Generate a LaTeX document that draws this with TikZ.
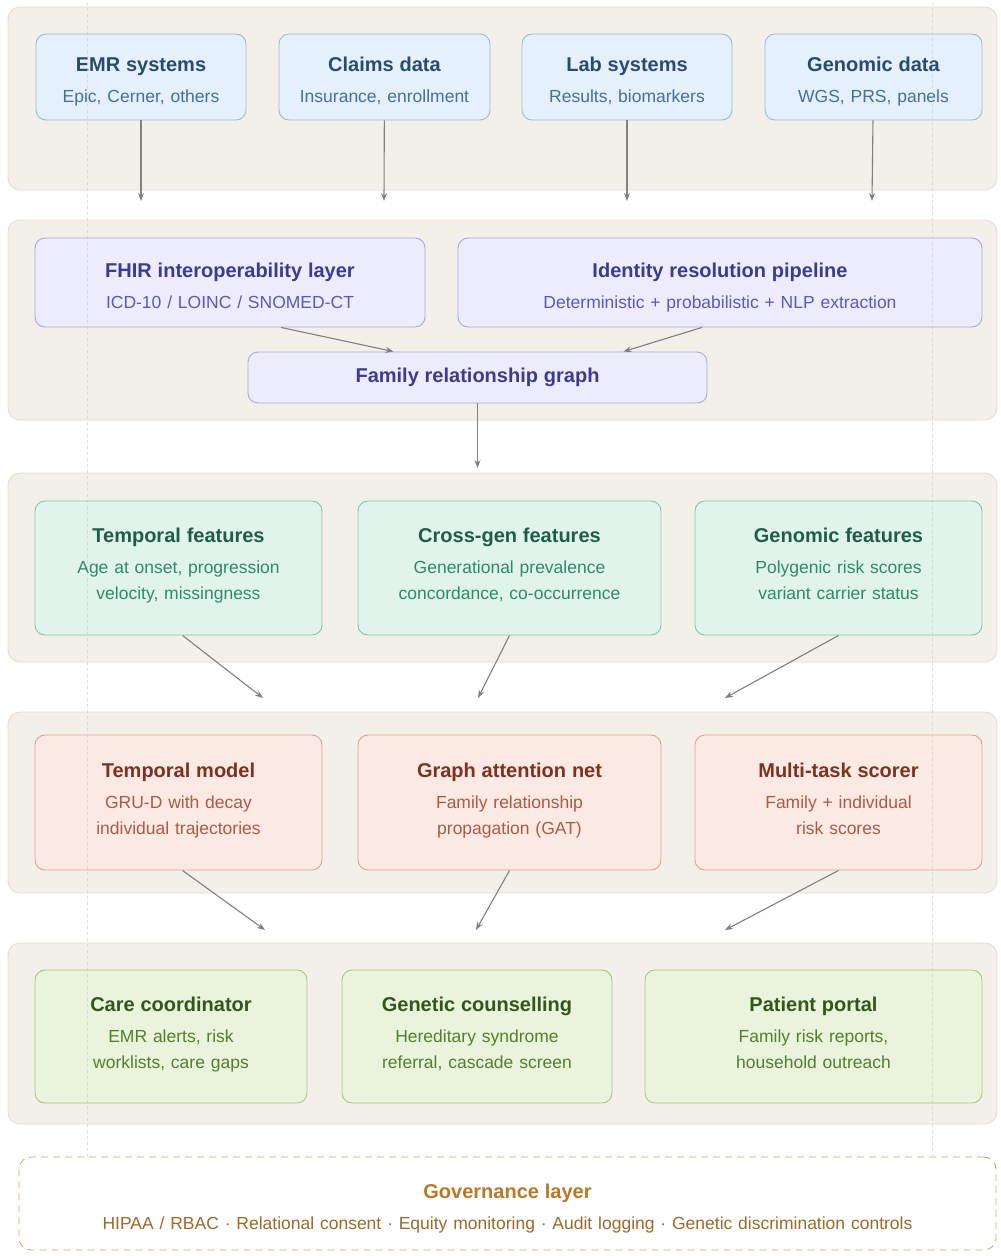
\documentclass[tikz,border=0pt]{standalone}
\usepackage{fontspec}
\setmainfont{Liberation Sans}
\usetikzlibrary{arrows.meta}

\definecolor{bandfill}{HTML}{F3F0EA}
\definecolor{bandline}{HTML}{E2DDD3}
\definecolor{srcfill}{HTML}{E4F0FB}
\definecolor{srcline}{HTML}{9DBAD6}
\definecolor{srcttl}{HTML}{2A4A6E}
\definecolor{srcsub}{HTML}{45709A}
\definecolor{intfill}{HTML}{EDECFD}
\definecolor{intline}{HTML}{AAA6E6}
\definecolor{intttl}{HTML}{3D3A8F}
\definecolor{intsub}{HTML}{5D57C0}
\definecolor{featfill}{HTML}{E0F4EC}
\definecolor{featline}{HTML}{86C4AB}
\definecolor{featttl}{HTML}{1E5E48}
\definecolor{featsub}{HTML}{2F8A69}
\definecolor{modfill}{HTML}{FBE9E3}
\definecolor{modline}{HTML}{DBA596}
\definecolor{modttl}{HTML}{7C3220}
\definecolor{modsub}{HTML}{A95C47}
\definecolor{outfill}{HTML}{EAF3DC}
\definecolor{outline}{HTML}{A8C585}
\definecolor{outttl}{HTML}{34561A}
\definecolor{outsub}{HTML}{557F2C}
\definecolor{govline}{HTML}{D7A562}
\definecolor{govttl}{HTML}{B87826}
\definecolor{govsub}{HTML}{9C6A2C}
\definecolor{arrowgray}{HTML}{808080}
\definecolor{guidegray}{HTML}{CFCAC0}

% title line + coloured detail lines
\newcommand{\cardtext}[3]{{\color{#1}\fontsize{20}{24}\selectfont\bfseries #2}\\[5pt]#3\strut}
% same, text set a little lower (one detail line only)
\newcommand{\cardtextlow}[3]{{\color{#1}\fontsize{20}{24}\selectfont\bfseries\rule{0pt}{28pt}#2}\\[5pt]#3\strut}

\tikzset{
  band/.style={draw=bandline, fill=bandfill, rounded corners=12pt, line width=0.8pt},
  card/.style={rounded corners=10pt, line width=0.9pt, align=center, inner xsep=10pt,
    inner ysep=4pt, font=\fontsize{17.5}{26}\selectfont},
  srcbox/.style={card, fill=srcfill, draw=srcline, text=srcsub},
  intbox/.style={card, fill=intfill, draw=intline, text=intsub},
  featbox/.style={card, fill=featfill, draw=featline, text=featsub},
  modbox/.style={card, fill=modfill, draw=modline, text=modsub},
  outbox/.style={card, fill=outfill, draw=outline, text=outsub},
  govbox/.style={card, draw=govline, dashed, dash pattern=on 7pt off 5pt, fill=white,
    text=govsub, rounded corners=12pt},
  arr/.style={draw=arrowgray, line width=1.1pt, -{Stealth[length=8pt,width=6pt]}},
  guide/.style={draw=guidegray, dashed, line width=0.9pt, opacity=0.6}
}

\begin{document}
\begin{tikzpicture}[x=1pt,y=-1pt]
  \useasboundingbox (0,0) rectangle (1001,1256);

  % Bands
  \draw[band] (8,7) rectangle (997,190);
  \draw[band] (8,220) rectangle (997,420);
  \draw[band] (8,473) rectangle (997,662);
  \draw[band] (8,712) rectangle (997,893);
  \draw[band] (8,943) rectangle (997,1124);

  % Data sources
  \node[srcbox, text width=190pt, minimum height=86pt] (emr) at (141,77)
    {\cardtextlow{srcttl}{EMR systems}{Epic, Cerner, others}};
  \node[srcbox, text width=191pt, minimum height=86pt] (claims) at (384.5,77)
    {\cardtextlow{srcttl}{Claims data}{Insurance, enrollment}};
  \node[srcbox, text width=190pt, minimum height=86pt] (lab) at (627,77)
    {\cardtextlow{srcttl}{Lab systems}{Results, biomarkers}};
  \node[srcbox, text width=197pt, minimum height=86pt] (gdata) at (873.5,77)
    {\cardtextlow{srcttl}{Genomic data}{WGS, PRS, panels}};

  % Integration
  \node[intbox, text width=370pt, minimum height=89pt] (fhir) at (230,282.5)
    {\cardtextlow{intttl}{FHIR interoperability layer}{ICD-10 / LOINC / SNOMED-CT}};
  \node[intbox, text width=504pt, minimum height=89pt] (ident) at (720,282.5)
    {\cardtextlow{intttl}{Identity resolution pipeline}{Deterministic + probabilistic + NLP extraction}};
  \node[intbox, text width=439pt, minimum height=51pt] (frg) at (477.5,377.5)
    {{\color{intttl}\fontsize{20}{24}\selectfont\bfseries Family relationship graph}};

  % Features
  \node[featbox, text width=267pt, minimum height=134pt] (tfeat) at (178.5,568)
    {\cardtext{featttl}{Temporal features}{Age at onset, progression\\velocity, missingness}};
  \node[featbox, text width=283pt, minimum height=134pt] (xfeat) at (509.5,568)
    {\cardtext{featttl}{Cross-gen features}{Generational prevalence\\concordance, co-occurrence}};
  \node[featbox, text width=267pt, minimum height=134pt] (gfeat) at (838.5,568)
    {\cardtext{featttl}{Genomic features}{Polygenic risk scores\\variant carrier status}};

  % Models
  \node[modbox, text width=267pt, minimum height=135pt] (tmod) at (178.5,802.5)
    {\cardtext{modttl}{Temporal model}{GRU-D with decay\\individual trajectories}};
  \node[modbox, text width=283pt, minimum height=135pt] (gat) at (509.5,802.5)
    {\cardtext{modttl}{Graph attention net}{Family relationship\\propagation (GAT)}};
  \node[modbox, text width=267pt, minimum height=135pt] (mts) at (838.5,802.5)
    {\cardtext{modttl}{Multi-task scorer}{Family + individual\\risk scores}};

  % Outputs
  \node[outbox, text width=252pt, minimum height=133pt] (care) at (171,1036.5)
    {\cardtext{outttl}{Care coordinator}{EMR alerts, risk\\worklists, care gaps}};
  \node[outbox, text width=250pt, minimum height=133pt] (gcoun) at (477,1036.5)
    {\cardtext{outttl}{Genetic counselling}{Hereditary syndrome\\referral, cascade screen}};
  \node[outbox, text width=317pt, minimum height=133pt] (portal) at (813.5,1036.5)
    {\cardtext{outttl}{Patient portal}{Family risk reports,\\household outreach}};

  % Governance
  \node[govbox, text width=957pt, minimum height=93pt] (gov) at (507.5,1203.5)
    {\cardtextlow{govttl}{Governance layer}{HIPAA / RBAC · Relational consent · Equity monitoring · Audit logging · Genetic discrimination controls}};

  % Guide lines up from governance
  \coordinate (gl) at (87,3);
  \coordinate (gr) at (932,3);
  \draw[guide] (gov.north -| gl) -- (gl);
  \draw[guide] (gov.north -| gr) -- (gr);

  % Arrow ends in the gaps
  \coordinate (e1) at (141,201);
  \coordinate (e2) at (384,201);
  \coordinate (e3) at (627,201);
  \coordinate (e4) at (872,201);
  \coordinate (e5) at (477.5,468);
  \coordinate (f1) at (263,698);
  \coordinate (f2) at (478,698);
  \coordinate (f3) at (725,698);
  \coordinate (m1) at (265,930);
  \coordinate (m2) at (476,930);
  \coordinate (m3) at (725,930);

  % Arrows
  \draw[arr] (emr) -- (e1);
  \draw[arr] (claims) -- (e2);
  \draw[arr] (lab) -- (e3);
  \draw[arr] (gdata) -- (e4);
  \draw[arr] ([xshift=51pt]fhir.south) -- ([xshift=-84pt]frg.north);
  \draw[arr] ([xshift=-18pt]ident.south) -- ([xshift=146pt]frg.north);
  \draw[arr] (frg) -- (e5);
  \draw[arr] ([xshift=4pt]tfeat.south) -- (f1);
  \draw[arr] (xfeat.south) -- (f2);
  \draw[arr] (gfeat.south) -- (f3);
  \draw[arr] ([xshift=4pt]tmod.south) -- (m1);
  \draw[arr] (gat.south) -- (m2);
  \draw[arr] (mts.south) -- (m3);
\end{tikzpicture}
\end{document}
